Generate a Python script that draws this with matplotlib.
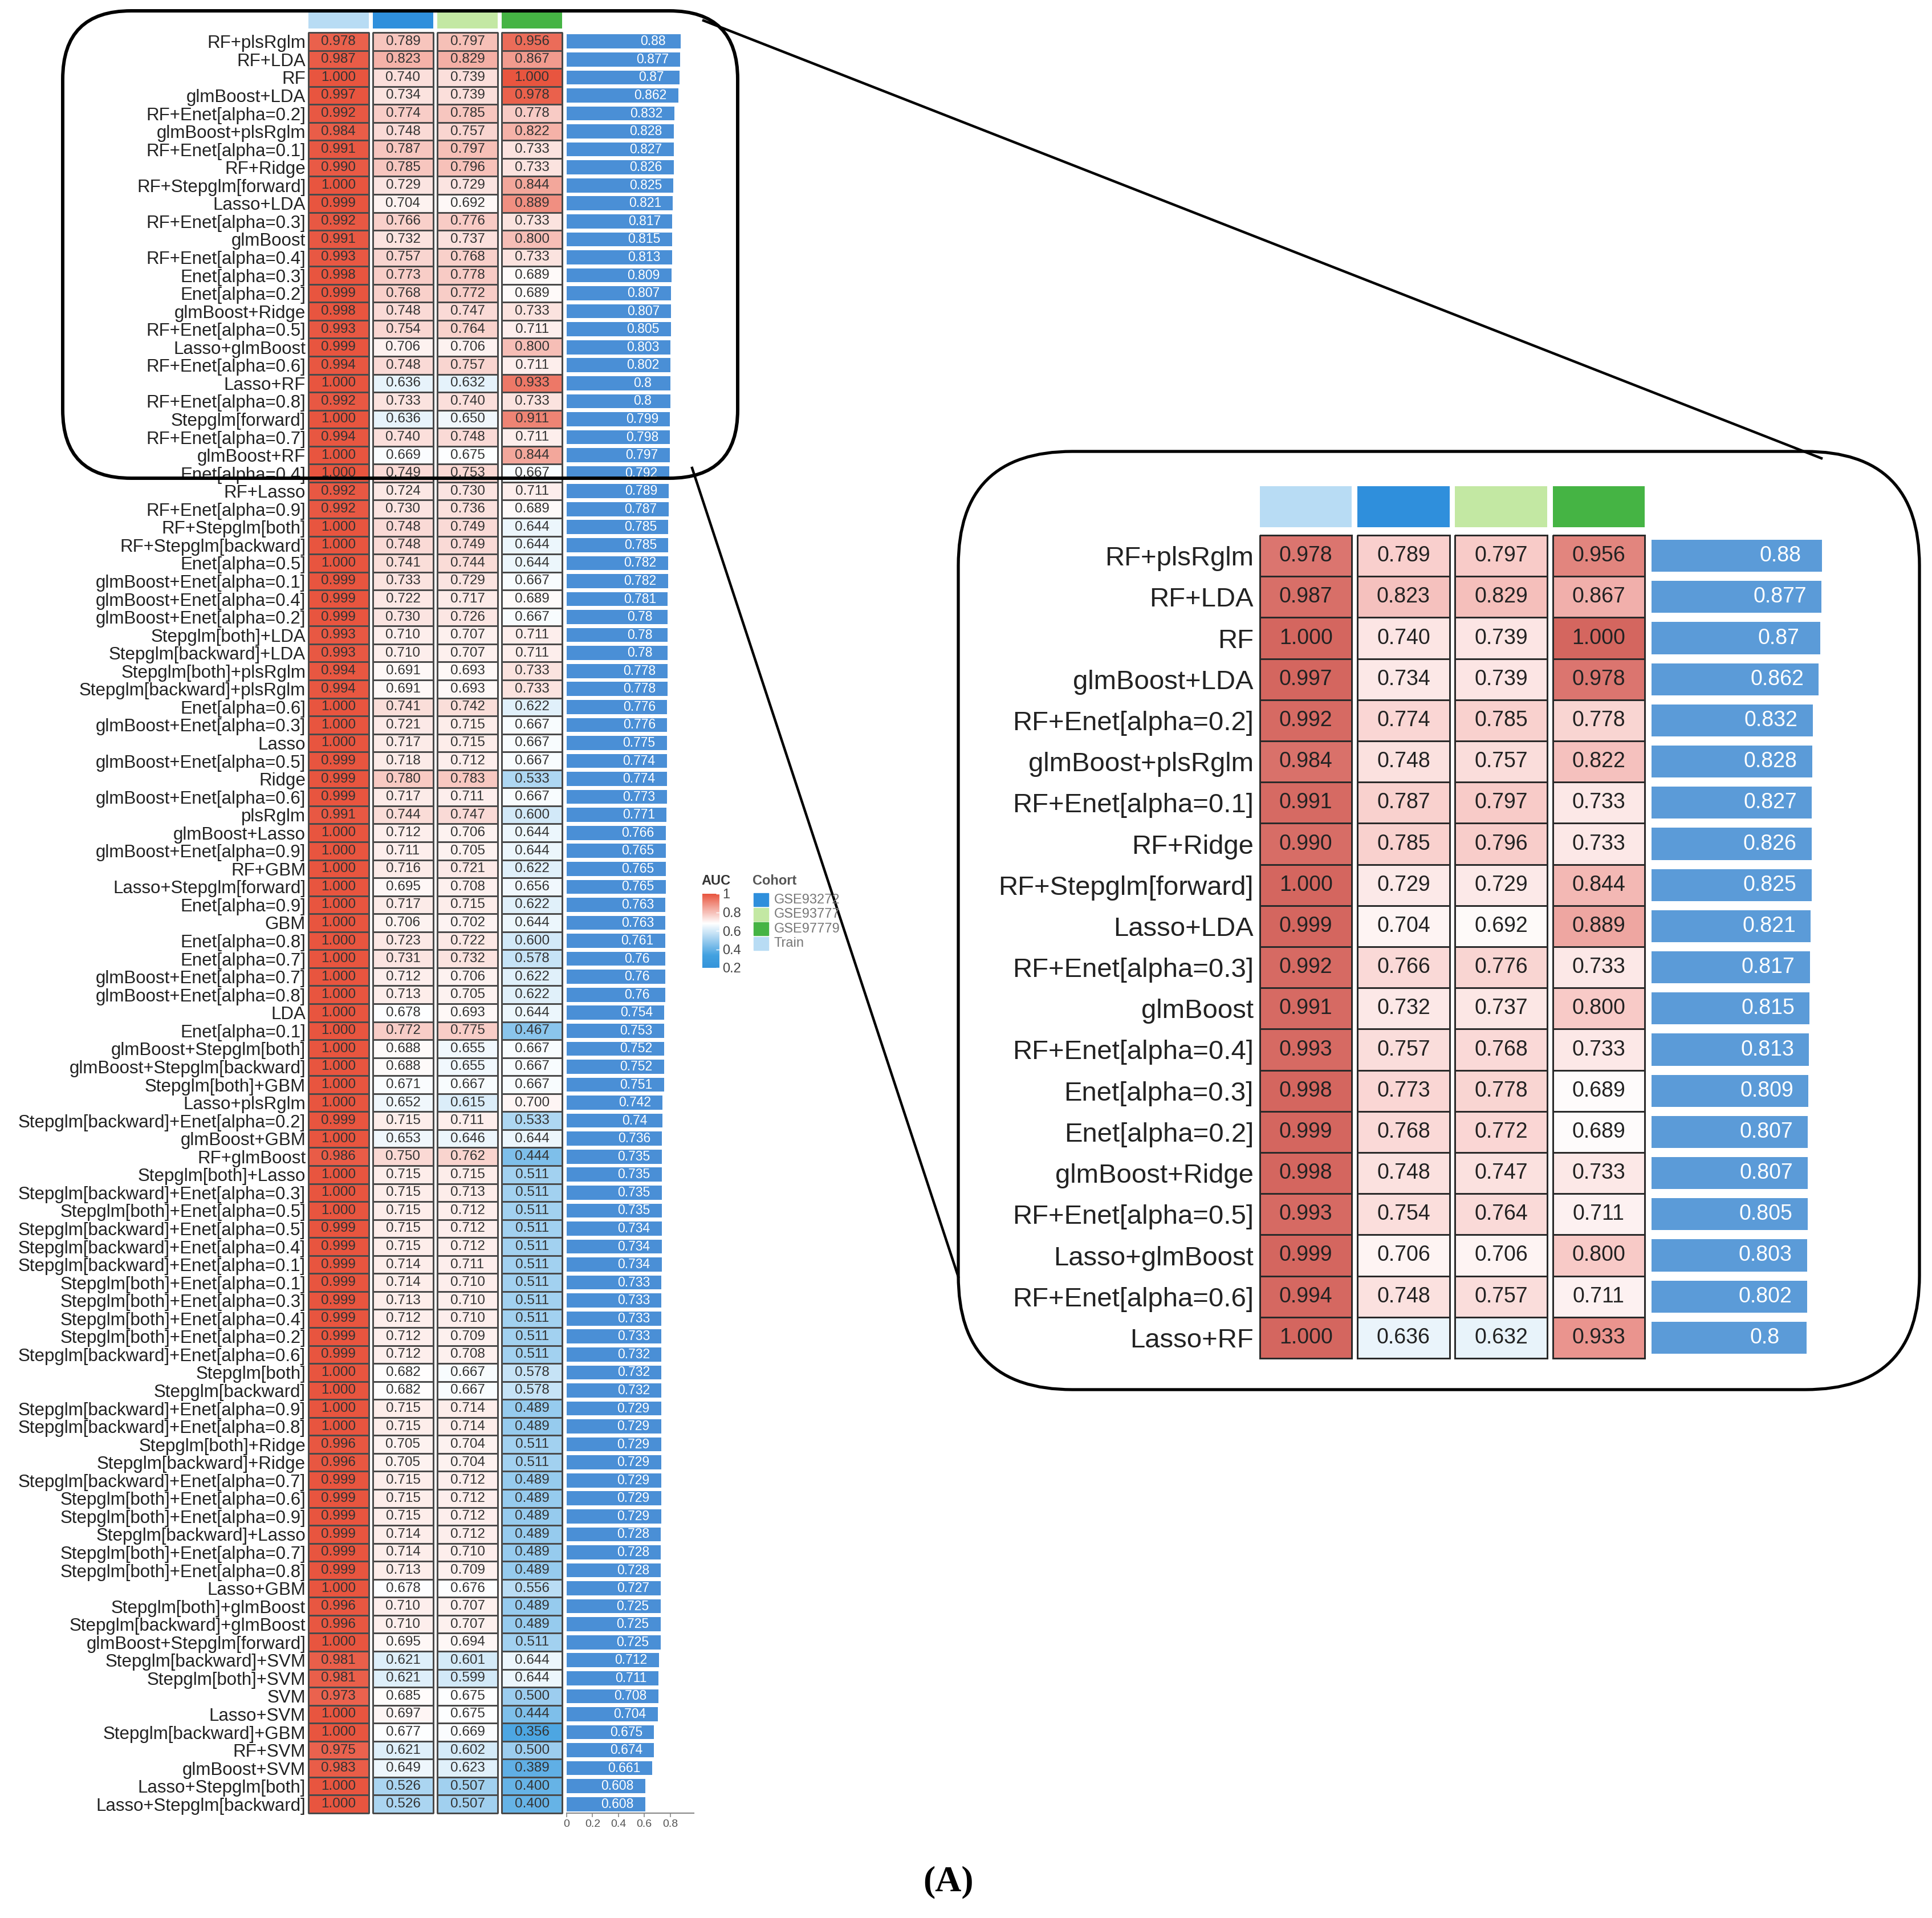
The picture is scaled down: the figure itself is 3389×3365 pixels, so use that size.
import numpy as np
import matplotlib
matplotlib.use('Agg')
import matplotlib.pyplot as plt
import matplotlib.cm as cm
from matplotlib.colors import LinearSegmentedColormap, Normalize
from matplotlib.patches import FancyBboxPatch, Rectangle

# 1. Dados (AUC por modelo e coorte)
modelos = [
    'RF+plsRglm', 'RF+LDA', 'RF', 'glmBoost+LDA', 'RF+Enet[alpha=0.2]',
    'glmBoost+plsRglm', 'RF+Enet[alpha=0.1]', 'RF+Ridge', 'RF+Stepglm[forward]', 'Lasso+LDA',
    'RF+Enet[alpha=0.3]', 'glmBoost', 'RF+Enet[alpha=0.4]', 'Enet[alpha=0.3]', 'Enet[alpha=0.2]',
    'glmBoost+Ridge', 'RF+Enet[alpha=0.5]', 'Lasso+glmBoost', 'RF+Enet[alpha=0.6]', 'Lasso+RF',
    'RF+Enet[alpha=0.8]', 'Stepglm[forward]', 'RF+Enet[alpha=0.7]', 'glmBoost+RF', 'Enet[alpha=0.4]',
    'RF+Lasso', 'RF+Enet[alpha=0.9]', 'RF+Stepglm[both]', 'RF+Stepglm[backward]', 'Enet[alpha=0.5]',
    'glmBoost+Enet[alpha=0.1]', 'glmBoost+Enet[alpha=0.4]', 'glmBoost+Enet[alpha=0.2]',
    'Stepglm[both]+LDA', 'Stepglm[backward]+LDA', 'Stepglm[both]+plsRglm',
    'Stepglm[backward]+plsRglm', 'Enet[alpha=0.6]', 'glmBoost+Enet[alpha=0.3]', 'Lasso',
    'glmBoost+Enet[alpha=0.5]', 'Ridge', 'glmBoost+Enet[alpha=0.6]', 'plsRglm', 'glmBoost+Lasso',
    'glmBoost+Enet[alpha=0.9]', 'RF+GBM', 'Lasso+Stepglm[forward]', 'Enet[alpha=0.9]', 'GBM',
    'Enet[alpha=0.8]', 'Enet[alpha=0.7]', 'glmBoost+Enet[alpha=0.7]', 'glmBoost+Enet[alpha=0.8]',
    'LDA', 'Enet[alpha=0.1]', 'glmBoost+Stepglm[both]', 'glmBoost+Stepglm[backward]',
    'Stepglm[both]+GBM', 'Lasso+plsRglm', 'Stepglm[backward]+Enet[alpha=0.2]', 'glmBoost+GBM',
    'RF+glmBoost', 'Stepglm[both]+Lasso', 'Stepglm[backward]+Enet[alpha=0.3]',
    'Stepglm[both]+Enet[alpha=0.5]', 'Stepglm[backward]+Enet[alpha=0.5]',
    'Stepglm[backward]+Enet[alpha=0.4]', 'Stepglm[backward]+Enet[alpha=0.1]',
    'Stepglm[both]+Enet[alpha=0.1]', 'Stepglm[both]+Enet[alpha=0.3]', 'Stepglm[both]+Enet[alpha=0.4]',
    'Stepglm[both]+Enet[alpha=0.2]', 'Stepglm[backward]+Enet[alpha=0.6]', 'Stepglm[both]',
    'Stepglm[backward]', 'Stepglm[backward]+Enet[alpha=0.9]', 'Stepglm[backward]+Enet[alpha=0.8]',
    'Stepglm[both]+Ridge', 'Stepglm[backward]+Ridge', 'Stepglm[backward]+Enet[alpha=0.7]',
    'Stepglm[both]+Enet[alpha=0.6]', 'Stepglm[both]+Enet[alpha=0.9]', 'Stepglm[backward]+Lasso',
    'Stepglm[both]+Enet[alpha=0.7]', 'Stepglm[both]+Enet[alpha=0.8]', 'Lasso+GBM',
    'Stepglm[both]+glmBoost', 'Stepglm[backward]+glmBoost', 'glmBoost+Stepglm[forward]',
    'Stepglm[backward]+SVM', 'Stepglm[both]+SVM', 'SVM', 'Lasso+SVM', 'Stepglm[backward]+GBM',
    'RF+SVM', 'glmBoost+SVM', 'Lasso+Stepglm[both]', 'Lasso+Stepglm[backward]',
]

auc_train = [
    0.978, 0.987, 1.000, 0.997, 0.992, 0.984, 0.991, 0.990, 1.000, 0.999,
    0.992, 0.991, 0.993, 0.998, 0.999, 0.998, 0.993, 0.999, 0.994, 1.000,
    0.992, 1.000, 0.994, 1.000, 1.000, 0.992, 0.992, 1.000, 1.000, 1.000,
    0.999, 0.999, 0.999, 0.993, 0.993, 0.994, 0.994, 1.000, 1.000, 1.000,
    0.999, 0.999, 0.999, 0.991, 1.000, 1.000, 1.000, 1.000, 1.000, 1.000,
    1.000, 1.000, 1.000, 1.000, 1.000, 1.000, 1.000, 1.000, 1.000, 1.000,
    0.999, 1.000, 0.986, 1.000, 1.000, 1.000, 0.999, 0.999, 0.999, 0.999,
    0.999, 0.999, 0.999, 0.999, 1.000, 1.000, 1.000, 1.000, 0.996, 0.996,
    0.999, 0.999, 0.999, 0.999, 0.999, 0.999, 1.000, 0.996, 0.996, 1.000,
    0.981, 0.981, 0.973, 1.000, 1.000, 0.975, 0.983, 1.000, 1.000,
]
auc_gse93272 = [
    0.789, 0.823, 0.740, 0.734, 0.774, 0.748, 0.787, 0.785, 0.729, 0.704,
    0.766, 0.732, 0.757, 0.773, 0.768, 0.748, 0.754, 0.706, 0.748, 0.636,
    0.733, 0.636, 0.740, 0.669, 0.749, 0.724, 0.730, 0.748, 0.748, 0.741,
    0.733, 0.722, 0.730, 0.710, 0.710, 0.691, 0.691, 0.741, 0.721, 0.717,
    0.718, 0.780, 0.717, 0.744, 0.712, 0.711, 0.716, 0.695, 0.717, 0.706,
    0.723, 0.731, 0.712, 0.713, 0.678, 0.772, 0.688, 0.688, 0.671, 0.652,
    0.715, 0.653, 0.750, 0.715, 0.715, 0.715, 0.715, 0.715, 0.714, 0.714,
    0.713, 0.712, 0.712, 0.712, 0.682, 0.682, 0.715, 0.715, 0.705, 0.705,
    0.715, 0.715, 0.715, 0.714, 0.714, 0.713, 0.678, 0.710, 0.710, 0.695,
    0.621, 0.621, 0.685, 0.697, 0.677, 0.621, 0.649, 0.526, 0.526,
]
auc_gse93777 = [
    0.797, 0.829, 0.739, 0.739, 0.785, 0.757, 0.797, 0.796, 0.729, 0.692,
    0.776, 0.737, 0.768, 0.778, 0.772, 0.747, 0.764, 0.706, 0.757, 0.632,
    0.740, 0.650, 0.748, 0.675, 0.753, 0.730, 0.736, 0.749, 0.749, 0.744,
    0.729, 0.717, 0.726, 0.707, 0.707, 0.693, 0.693, 0.742, 0.715, 0.715,
    0.712, 0.783, 0.711, 0.747, 0.706, 0.705, 0.721, 0.708, 0.715, 0.702,
    0.722, 0.732, 0.706, 0.705, 0.693, 0.775, 0.655, 0.655, 0.667, 0.615,
    0.711, 0.646, 0.762, 0.715, 0.713, 0.712, 0.712, 0.712, 0.711, 0.710,
    0.710, 0.710, 0.709, 0.708, 0.667, 0.667, 0.714, 0.714, 0.704, 0.704,
    0.712, 0.712, 0.712, 0.712, 0.710, 0.709, 0.676, 0.707, 0.707, 0.694,
    0.601, 0.599, 0.675, 0.675, 0.669, 0.602, 0.623, 0.507, 0.507,
]
auc_gse97779 = [
    0.956, 0.867, 1.000, 0.978, 0.778, 0.822, 0.733, 0.733, 0.844, 0.889,
    0.733, 0.800, 0.733, 0.689, 0.689, 0.733, 0.711, 0.800, 0.711, 0.933,
    0.733, 0.911, 0.711, 0.844, 0.667, 0.711, 0.689, 0.644, 0.644, 0.644,
    0.667, 0.689, 0.667, 0.711, 0.711, 0.733, 0.733, 0.622, 0.667, 0.667,
    0.667, 0.533, 0.667, 0.600, 0.644, 0.644, 0.622, 0.656, 0.622, 0.644,
    0.600, 0.578, 0.622, 0.622, 0.644, 0.467, 0.667, 0.667, 0.667, 0.700,
    0.533, 0.644, 0.444, 0.511, 0.511, 0.511, 0.511, 0.511, 0.511, 0.511,
    0.511, 0.511, 0.511, 0.511, 0.578, 0.578, 0.489, 0.489, 0.511, 0.511,
    0.489, 0.489, 0.489, 0.489, 0.489, 0.489, 0.556, 0.489, 0.489, 0.511,
    0.644, 0.644, 0.500, 0.444, 0.356, 0.500, 0.389, 0.400, 0.400,
]
auc_media = [
    0.88, 0.877, 0.87, 0.862, 0.832, 0.828, 0.827, 0.826, 0.825, 0.821,
    0.817, 0.815, 0.813, 0.809, 0.807, 0.807, 0.805, 0.803, 0.802, 0.8,
    0.8, 0.799, 0.798, 0.797, 0.792, 0.789, 0.787, 0.785, 0.785, 0.782,
    0.782, 0.781, 0.78, 0.78, 0.78, 0.778, 0.778, 0.776, 0.776, 0.775,
    0.774, 0.774, 0.773, 0.771, 0.766, 0.765, 0.765, 0.765, 0.763, 0.763,
    0.761, 0.76, 0.76, 0.76, 0.754, 0.753, 0.752, 0.752, 0.751, 0.742,
    0.74, 0.736, 0.735, 0.735, 0.735, 0.735, 0.734, 0.734, 0.734, 0.733,
    0.733, 0.733, 0.733, 0.732, 0.732, 0.732, 0.729, 0.729, 0.729, 0.729,
    0.729, 0.729, 0.729, 0.728, 0.728, 0.728, 0.727, 0.725, 0.725, 0.725,
    0.712, 0.711, 0.708, 0.704, 0.675, 0.674, 0.661, 0.608, 0.608,
]

coortes = ['Train', 'GSE93272', 'GSE93777', 'GSE97779']
cores_coorte = {'Train': '#b8dcf4', 'GSE93272': '#2f8fdc', 'GSE93777': '#c3e8a3', 'GSE97779': '#45b444'}
ordem_legenda = ['GSE93272', 'GSE93777', 'GSE97779', 'Train']
n_zoom = 20
ticks_barra = [0, 0.2, 0.4, 0.6, 0.8]
ticks_auc = [0.2, 0.4, 0.6, 0.8, 1.0]

tabela = [auc_train, auc_gse93272, auc_gse93777, auc_gse97779]
n = len(modelos)

# 2. Cores (escala 0.2 -> 1, branco perto de 0.68)
norm = Normalize(vmin=0.2, vmax=1.0)
cmap = LinearSegmentedColormap.from_list('auc', [
    (0.0, '#3494da'), (0.17, '#43a1e0'), (0.6, '#ffffff'), (1.0, '#e8553f')])
cmap_zoom = LinearSegmentedColormap.from_list('auc_zoom', [
    (0.0, '#4a9bd6'), (0.17, '#5aa6dc'), (0.6, '#ffffff'), (0.75, '#f8cbc8'),
    (0.916, '#ea958f'), (1.0, '#d4665f')])

plt.rcParams['font.family'] = ['Liberation Sans', 'DejaVu Sans']

W, H = 3389, 3365
fig = plt.figure(figsize=(W / 100, H / 100), dpi=100)


def eixo(x0, y0, x1, y1):
    # eixo posicionado em pixels da figura
    return fig.add_axes([x0 / W, 1 - y1 / H, (x1 - x0) / W, (y1 - y0) / H])


def heatmap(ax, ax_top, nlin, mapa, gap, borda, lw, fs_val, fs_lab, pad, cor_txt):
    for j, col in enumerate(tabela):
        x0 = j * (1 + gap)
        vals = np.array(col[:nlin]).reshape(-1, 1)
        mesh = ax.pcolormesh([x0, x0 + 1], np.arange(nlin + 1), vals, cmap=mapa, norm=norm,
                             edgecolors=borda, linewidth=lw)
        mesh.set_clip_on(False)
        for i, v in enumerate(col[:nlin]):
            ax.text(x0 + 0.5, i + 0.5, f'{v:.3f}', ha='center', va='center',
                    fontsize=fs_val, color=cor_txt)
    ax.set_xlim(0, 4 + 3 * gap)
    ax.set_ylim(nlin, 0)
    ax.set_xticks([])
    ax.set_yticks(np.arange(nlin) + 0.5)
    ax.set_yticklabels(modelos[:nlin], fontsize=fs_lab, color='#222222')
    ax.tick_params(axis='y', length=0, pad=pad)
    for s in ax.spines.values():
        s.set_visible(False)

    xs = [j * (1 + gap) + 0.5 for j in range(4)]
    ax_top.bar(xs, [1] * 4, width=1, color=[cores_coorte[c] for c in coortes])
    ax_top.set_xlim(0, 4 + 3 * gap)
    ax_top.set_ylim(0, 1)
    ax_top.axis('off')


def barras(ax, nlin, cor, fs, eixo_x):
    ax.barh(np.arange(nlin) + 0.5, auc_media[:nlin], height=0.78, color=cor)
    for i, v in enumerate(auc_media[:nlin]):
        ax.text(v - 0.215, i + 0.5, f'{v:g}', ha='center', va='center', fontsize=fs, color='white')
    ax.set_xlim(0, 0.98)
    ax.set_ylim(nlin, 0)
    ax.set_yticks([])
    for s in ['top', 'right', 'left']:
        ax.spines[s].set_visible(False)
    if eixo_x:
        ax.spines['bottom'].set_color('#888888')
        ax.spines['bottom'].set_linewidth(1.5)
        ax.set_xticks(ticks_barra)
        ax.set_xticklabels([f'{t:g}' for t in ticks_barra])
        ax.tick_params(axis='x', length=5, width=1.2, color='#888888', labelsize=14,
                       labelcolor='#555555', pad=3)
    else:
        ax.spines['bottom'].set_visible(False)
        ax.set_xticks([])


# 3. Painel completo (esquerda)
ax_hm = eixo(541, 57, 986, 3181)
ax_top = eixo(541, 22, 986, 50)
heatmap(ax_hm, ax_top, n, cmap, 0.07, '#4a4a4a', 0.9, 17.5, 22.5, 3.5, '#333333')
ax_bar = eixo(994, 57, 1216.5, 3181)
barras(ax_bar, n, '#4a8fd6', 16.5, True)

# 4. Painel ampliado (top 20)
ax_hm2 = eixo(2210, 939, 2885, 2383)
ax_top2 = eixo(2210, 853, 2885, 925)
heatmap(ax_hm2, ax_top2, n_zoom, cmap_zoom, 0.062, '#2a2a2a', 2.0, 27, 34, 8, '#222222')
ax_bar2 = eixo(2897, 939, 2897 + 0.98 * 340, 2383)
barras(ax_bar2, n_zoom, '#5b9bd8', 27, False)

# 5. Legendas
cax = eixo(1232, 1568, 1262, 1698)
cb = fig.colorbar(cm.ScalarMappable(norm=norm, cmap=cmap), cax=cax, ticks=ticks_auc)
cb.outline.set_visible(False)
cax.set_yticklabels([f'{t:g}' for t in ticks_auc])
cax.tick_params(length=4, width=1, color='white', direction='in', labelsize=17,
                labelcolor='#444444', pad=4)

ov = fig.add_axes([0, 0, 1, 1], zorder=20)
ov.set_xlim(0, W)
ov.set_ylim(H, 0)
ov.patch.set_alpha(0)
ov.axis('off')

ov.text(1230, 1545, 'AUC', fontsize=17, fontweight='bold', color='#333333', va='center')
ov.text(1320, 1545, 'Cohort', fontsize=17, fontweight='bold', color='#555555', va='center')
for k, nome in enumerate(ordem_legenda):
    y0 = 1567 + k * 25.5
    ov.add_patch(Rectangle((1322, y0), 26, 23, color=cores_coorte[nome]))
    ov.text(1358, y0 + 11.5, nome, fontsize=17, color='#777777', va='center')

# 6. Molduras e linhas de ampliacao
ov.add_patch(FancyBboxPatch((110, 19), 1184, 820, boxstyle='round,pad=0,rounding_size=120',
                            fill=False, edgecolor='black', linewidth=4.3))
ov.add_patch(FancyBboxPatch((1681, 792), 1686, 1646, boxstyle='round,pad=0,rounding_size=200',
                            fill=False, edgecolor='black', linewidth=3.8))
ov.plot([1234, 3195], [36, 804], color='black', linewidth=3.2)
ov.plot([1214, 1681], [821, 2240], color='black', linewidth=3.2)

ov.text(1664, 3302, '(A)', fontsize=46, fontweight='bold', family='Liberation Serif',
        ha='center', va='center', color='black')

fig.savefig('out.png', dpi=100, facecolor='white')
